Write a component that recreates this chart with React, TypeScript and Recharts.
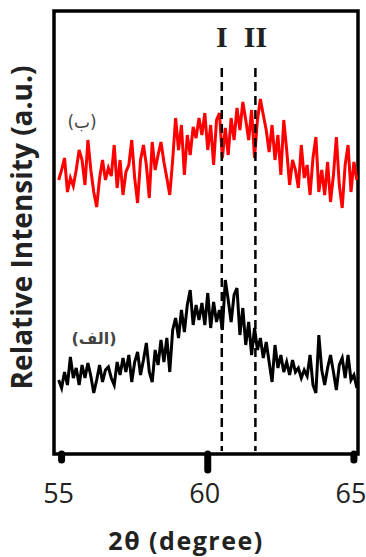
import React from 'react';
import { LineChart, Line, XAxis, YAxis, ReferenceLine, ReferenceArea, ReferenceDot } from 'recharts';

// 2θ positions (degree)
const theta = [
  54.9, 55.0, 55.1, 55.2, 55.3, 55.4, 55.5, 55.6, 55.7, 55.8,
  55.9, 56.0, 56.1, 56.2, 56.3, 56.4, 56.5, 56.6, 56.7, 56.8,
  56.9, 57.0, 57.1, 57.2, 57.3, 57.4, 57.5, 57.6, 57.7, 57.8,
  57.9, 58.0, 58.1, 58.2, 58.3, 58.4, 58.5, 58.6, 58.7, 58.8,
  58.9, 59.0, 59.1, 59.2, 59.3, 59.4, 59.5, 59.6, 59.7, 59.8,
  59.9, 60.0, 60.1, 60.2, 60.3, 60.4, 60.5, 60.6, 60.7, 60.8,
  60.9, 61.0, 61.1, 61.2, 61.3, 61.4, 61.5, 61.6, 61.7, 61.8,
  61.9, 62.0, 62.1, 62.2, 62.3, 62.4, 62.5, 62.6, 62.7, 62.8,
  62.9, 63.0, 63.1, 63.2, 63.3, 63.4, 63.5, 63.6, 63.7, 63.8,
  63.9, 64.0, 64.1, 64.2, 64.3, 64.4, 64.5, 64.6, 64.7, 64.8,
  64.9, 65.0, 65.1,
];

// sample (ب) – red, upper trace
const sampleB = [
  274, 284, 296, 262, 276, 268, 284, 304, 294, 269,
  314, 284, 262, 247, 276, 294, 274, 286, 278, 309,
  266, 294, 259, 282, 289, 314, 276, 251, 294, 309,
  289, 256, 312, 284, 299, 312, 292, 276, 259, 294,
  336, 304, 329, 279, 319, 299, 327, 316, 336, 319,
  341, 304, 329, 289, 334, 341, 296, 326, 299, 336,
  314, 346, 324, 352, 334, 314, 344, 296, 334, 355,
  339, 324, 302, 329, 294, 319, 279, 334, 304, 269,
  294, 284, 266, 309, 276, 289, 259, 296, 317, 262,
  284, 259, 292, 252, 279, 317, 269, 246, 289, 309,
  262, 292, 274,
];

// sample (الف) – black, lower trace
const sampleA = [
  74, 66, 82, 69, 97, 76, 86, 69, 89, 76,
  91, 78, 61, 74, 89, 72, 84, 87, 76, 69,
  92, 79, 96, 82, 99, 72, 92, 102, 79, 94,
  111, 82, 72, 104, 89, 114, 92, 116, 82, 124,
  136, 116, 144, 122, 149, 164, 129, 149, 134, 151,
  129, 161, 126, 152, 132, 144, 124, 174, 154, 132,
  159, 166, 119, 146, 109, 132, 99, 126, 104, 116,
  96, 112, 92, 72, 109, 86, 99, 82, 92, 79,
  94, 82, 86, 76, 84, 78, 99, 69, 61, 119,
  84, 69, 86, 99, 82, 64, 89, 96, 76, 99,
  74, 79, 66,
];

const xTicks = [55, 60, 65];
const xDomain = [54.74, 65.14];
const yDomain = [0, 443];

const peakPositions = [60.48, 61.63];
const peakLabels = ['I', 'II'];
const peakLineTop = 386;
const peakLabelY = 407;

const seriesLabels = ['(ب)', '(الف)'];
const seriesLabelX = [55.7, 56.11];
const seriesLabelY = [326, 110];

const data = theta.map((t, i) => ({ theta: t, b: sampleB[i], a: sampleA[i] }));

const XTick = (props: any) => {
  const { x, y, payload } = props;
  const major = payload.value === 60;
  return (
    <g>
      <line x1={x} x2={x} y1={y} y2={y + (major ? 16 : 6)} stroke="#000" strokeWidth={7} strokeLinecap="round" />
      <text x={x - 3} y={y + 49} textAnchor="middle" fontSize={27} fontFamily="'Open Sans', sans-serif" fill="#222">
        {payload.value}
      </text>
    </g>
  );
};

const XLabel = (props: any) => {
  const vb = props.viewBox || { x: 54, y: 454, width: 304, height: 103 };
  return (
    <text
      x={vb.x + vb.width / 2 - 20}
      y={vb.y + 96}
      textAnchor="middle"
      fontSize={25}
      fontWeight="bold"
      letterSpacing={1.5}
      fontFamily="'Open Sans', sans-serif"
      fill="#222"
    >
      2θ (degree)
    </text>
  );
};

const YLabel = (props: any) => {
  const vb = props.viewBox || { x: 0, y: 11, width: 54, height: 443 };
  const cx = vb.x + 32;
  const cy = vb.y + vb.height / 2 - 5;
  return (
    <text
      x={cx}
      y={cy}
      transform={`rotate(-90 ${cx} ${cy})`}
      textAnchor="middle"
      fontSize={28}
      fontWeight="bold"
      fontFamily="'Open Sans', sans-serif"
      fill="#222"
    >
      Relative Intensity (a.u.)
    </text>
  );
};

const makeTextShape = (text: string, opts: any) => (p: any) => (
  <text x={p.cx} y={p.cy} textAnchor="middle" {...opts}>
    {text}
  </text>
);

export default function App() {
  return (
    <div style={{ position: 'absolute', left: 0, top: 0, width: 366, height: 557, background: '#fff' }}>
      <LineChart width={366} height={557} data={data} margin={{ top: 11, right: 8, bottom: 0, left: 0 }}>
        <XAxis
          dataKey="theta"
          type="number"
          domain={xDomain}
          ticks={xTicks}
          allowDataOverflow
          axisLine={false}
          tickLine={false}
          tickSize={0}
          tickMargin={0}
          height={103}
          tick={<XTick />}
          interval={0}
          label={{ content: <XLabel /> }}
        />
        <YAxis
          type="number"
          domain={yDomain}
          allowDataOverflow
          tick={false}
          axisLine={false}
          tickLine={false}
          width={54}
          label={{ content: <YLabel /> }}
        />
        <Line type="linear" dataKey="b" stroke="#ff0000" strokeWidth={3} strokeLinejoin="miter" dot={false} isAnimationActive={false} />
        <Line type="linear" dataKey="a" stroke="#000000" strokeWidth={3} strokeLinejoin="miter" dot={false} isAnimationActive={false} />
        {peakPositions.map((p, i) => (
          <ReferenceLine
            key={'pl' + i}
            segment={[{ x: p, y: peakLineTop }, { x: p, y: 3 }]}
            stroke="#000"
            strokeWidth={2.5}
            strokeDasharray="9 5"
            ifOverflow="visible"
          />
        ))}
        {peakPositions.map((p, i) => (
          <ReferenceDot
            key={'pt' + i}
            x={p}
            y={peakLabelY}
            r={0}
            ifOverflow="visible"
            shape={makeTextShape(peakLabels[i], {
              fontSize: 30,
              fontWeight: 'bold',
              fontFamily: "'Liberation Serif', 'Times New Roman', serif",
              fill: '#222',
            })}
          />
        ))}
        {seriesLabels.map((s, i) => (
          <ReferenceDot
            key={'sl' + i}
            x={seriesLabelX[i]}
            y={seriesLabelY[i]}
            r={0}
            ifOverflow="visible"
            shape={makeTextShape(s, {
              fontSize: i === 0 ? 17 : 16,
              fontWeight: i === 1 ? 'bold' : 'normal',
              fontFamily: "'DejaVu Sans', sans-serif",
              fill: '#444',
            })}
          />
        ))}
        <ReferenceArea
          x1={xDomain[0]}
          x2={xDomain[1]}
          y1={yDomain[0]}
          y2={yDomain[1]}
          fill="none"
          fillOpacity={0}
          stroke="#000"
          strokeWidth={3.5}
          ifOverflow="visible"
        />
      </LineChart>
    </div>
  );
}
